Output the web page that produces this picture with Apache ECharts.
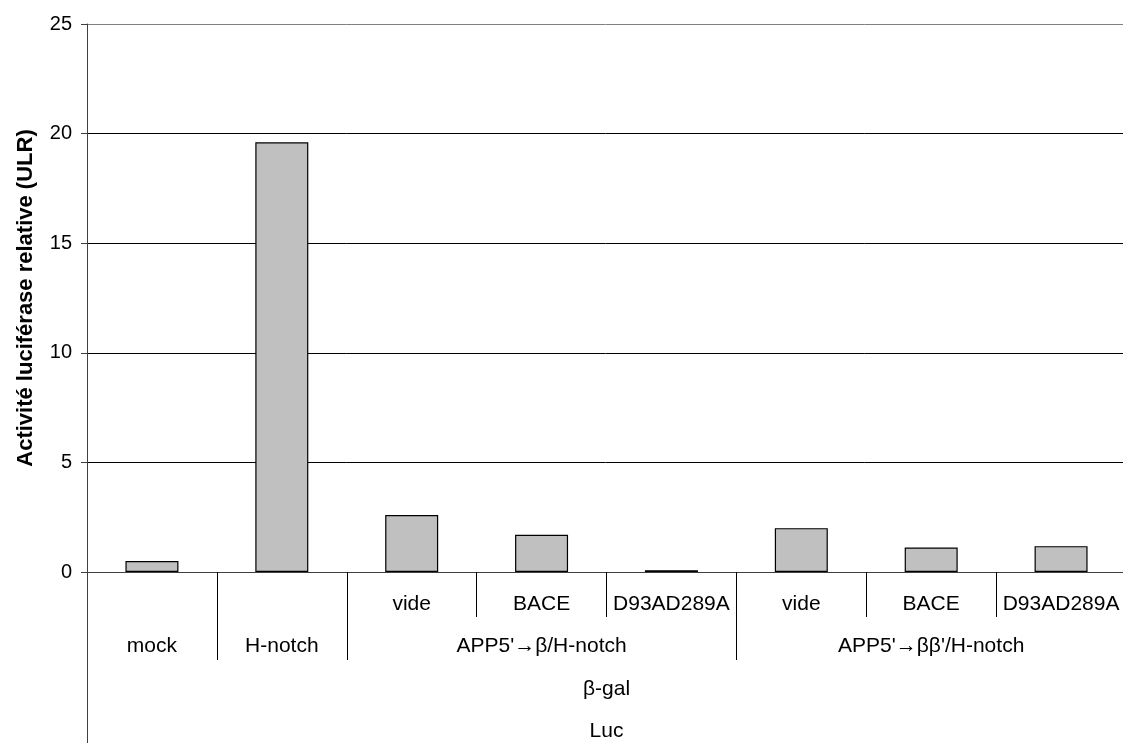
<!DOCTYPE html>
<html>
<head>
<meta charset="utf-8">
<script src="https://cdn.jsdelivr.net/npm/echarts@6/dist/echarts.min.js"></script>
<style>
  html, body { margin: 0; padding: 0; background: #fff; }
  #main { width: 1123px; height: 743px; }
</style>
</head>
<body>
<div id="main"></div>
<script>
// categories (one per bar)
var categories = ['mock', 'H-notch', 'b-vide', 'b-BACE', 'b-D93AD289A', 'bb-vide', 'bb-BACE', 'bb-D93AD289A']
// activity values
var values = [0.5, 19.6, 2.6, 1.7, 0.08, 2.0, 1.12, 1.18]
// label rows under the axis
var row1Labels = ['', '', 'vide', 'BACE', 'D93AD289A', 'vide', 'BACE', 'D93AD289A']
var row2Labels = ['mock', 'H-notch', '', 'APP5\'\u2192\u03b2/H-notch', '', '', 'APP5\'\u2192\u03b2\u03b2\'/H-notch', '']
// boundaries (left edge index) where separators are drawn
var row1Seps = [3, 4, 6, 7]
var row2Seps = [1, 2, 5]
var yTicks = [0, 5, 10, 15, 20, 25]

var font = 'Liberation Sans, Arial, sans-serif'
var chart = echarts.init(document.getElementById('main'))

function tickAt(list) {
  return function (index) { return list.indexOf(index) !== -1 }
}

var option = {
  animation: false,
  backgroundColor: '#fff',
  grid: { left: 87, right: -3, top: 24, bottom: 171, outerBoundsMode: 'none', containLabel: false },
  xAxis: [{
    type: 'category',
    data: categories,
    position: 'bottom',
    axisLine: { show: true, lineStyle: { color: '#404040', width: 1 } },
    axisTick: { show: true, interval: tickAt(row1Seps), length: 45, lineStyle: { color: '#000', width: 1 } },
    axisLabel: {
      interval: 0, margin: 22, fontFamily: font, fontSize: 21, color: '#000',
      formatter: function (v, i) { return row1Labels[i] }
    },
    name: '\u03b2-gal',
    nameLocation: 'middle',
    nameGap: 107,
    nameTextStyle: { fontFamily: font, fontSize: 21, color: '#000' }
  }, {
    type: 'category',
    data: categories,
    position: 'bottom',
    axisLine: { show: false },
    axisTick: { show: true, interval: tickAt(row2Seps), length: 88, lineStyle: { color: '#000', width: 1 } },
    axisLabel: {
      interval: 0, margin: 64, fontFamily: font, fontSize: 21, color: '#000',
      formatter: function (v, i) { return row2Labels[i] }
    },
    name: 'Luc',
    nameLocation: 'middle',
    nameGap: 149,
    nameTextStyle: { fontFamily: font, fontSize: 21, color: '#000' }
  }, {
    type: 'category',
    data: categories,
    position: 'bottom',
    axisLine: { show: false },
    axisTick: { show: true, interval: tickAt([0]), length: 175, lineStyle: { color: '#404040', width: 1 } },
    axisLabel: { show: false }
  }],
  yAxis: {
    type: 'value',
    min: 0,
    max: 25,
    interval: 5,
    axisLine: { show: true, lineStyle: { color: '#404040', width: 1 } },
    axisTick: { show: true, length: 6, lineStyle: { color: '#404040' } },
    axisLabel: {
      margin: 15, fontFamily: font, fontSize: 20, color: '#000',
      formatter: function (v) { return yTicks.indexOf(v) !== -1 ? String(v) : '' }
    },
    splitLine: { show: true, lineStyle: { color: ['#000', '#000', '#000', '#000', '#000', '#808080'], width: 1 } },
    name: 'Activit\u00e9 lucif\u00e9rase relative (ULR)',
    nameLocation: 'middle',
    nameGap: 50,
    nameTextStyle: { fontFamily: font, fontSize: 22, fontWeight: 'bold', color: '#000' }
  },
  series: [{
    type: 'bar',
    data: values,
    xAxisIndex: 0,
    barWidth: 53,
    itemStyle: { color: '#c0c0c0', borderColor: '#000', borderWidth: 1.2 }
  }]
}

chart.setOption(option)
</script>
</body>
</html>
